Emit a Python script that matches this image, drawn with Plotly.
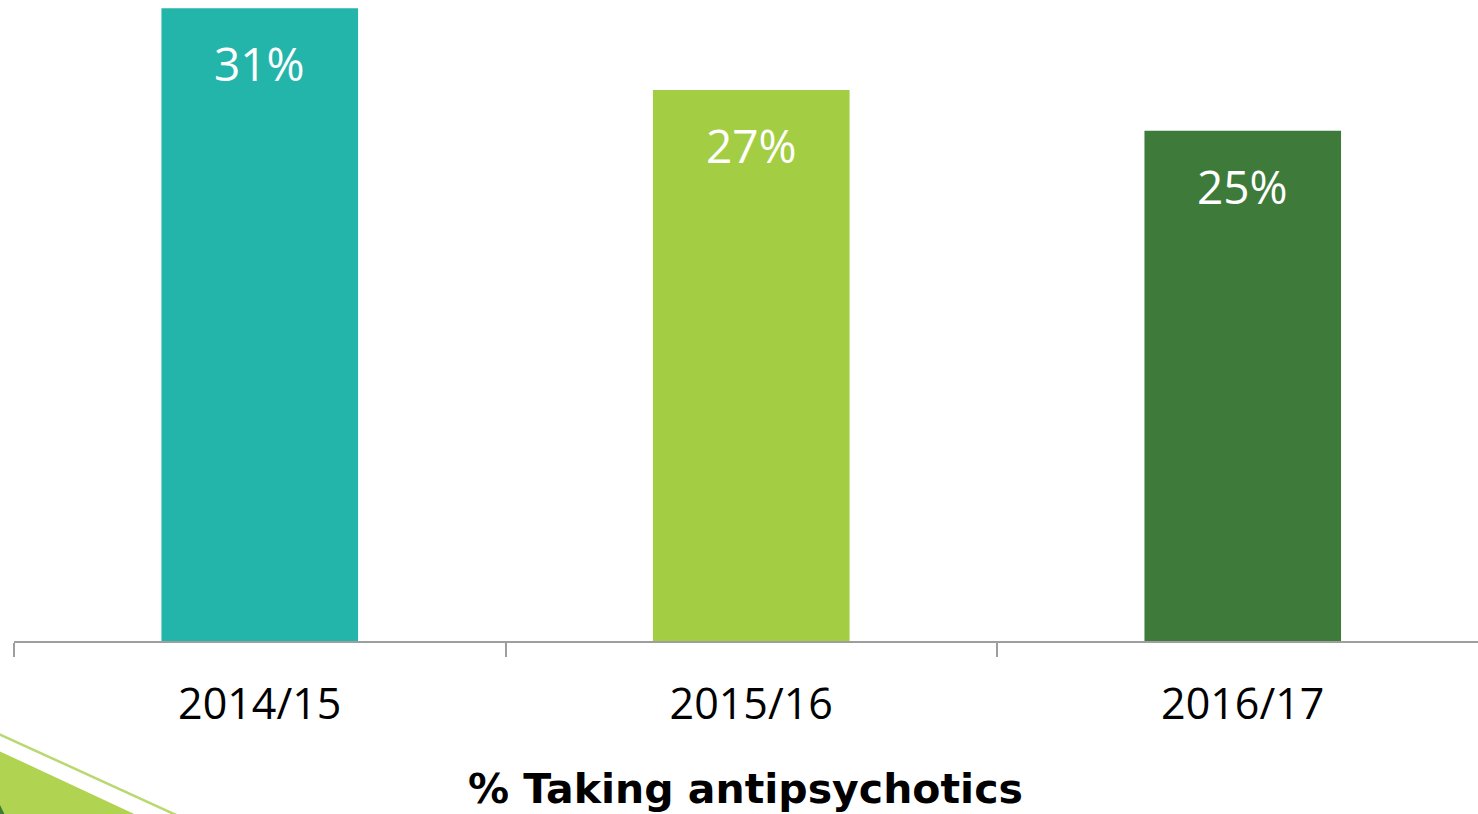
import plotly.graph_objects as go

# data
years = ['2014/15', '2015/16', '2016/17']
pct_taking = [31, 27, 25]
bar_colors = ['#24B5AA', '#A3CE43', '#3E7B3B']
title_text = '% Taking antipsychotics'

W, H = 1478, 814
PLOT_L, BASE_Y = 14, 641.5


def px(x):
    # figure pixel x -> paper x
    return (x - PLOT_L) / (W - PLOT_L)


def py(y):
    # figure pixel y -> paper y
    return (BASE_Y - y) / BASE_Y


fig = go.Figure()
fig.add_trace(go.Bar(
    x=years,
    y=pct_taking,
    width=0.4,
    marker=dict(color=bar_colors, line=dict(width=0)),
    hoverinfo='skip',
))

# value labels near the top of each bar
for yr, v in zip(years, pct_taking):
    fig.add_annotation(x=yr, y=v, text=f'{v}%', showarrow=False,
                       yanchor='top', yshift=-22,
                       font=dict(family='Open Sans', size=46, color='white'))

# axis title at the bottom
fig.add_annotation(x=px(745), y=py(790), xref='paper', yref='paper',
                   text=f'<b>{title_text}</b>', showarrow=False,
                   xanchor='center', yanchor='middle',
                   font=dict(family='DejaVu Sans', size=41, color='black'))

# decorative slide corner
fig.add_shape(type='path', xref='paper', yref='paper',
              path=f'M {px(-10)} {py(747.3)} L {px(150)} {py(822)} '
                   f'L {px(-10)} {py(822)} Z',
              fillcolor='#B1D352', line=dict(width=0), layer='above')
fig.add_shape(type='line', xref='paper', yref='paper',
              x0=px(-10), y0=py(730.5), x1=px(190), y1=py(822),
              line=dict(color='#B9D870', width=2.5), layer='above')
fig.add_shape(type='path', xref='paper', yref='paper',
              path=f'M {px(-10)} {py(785)} L {px(8)} {py(822)} '
                   f'L {px(-10)} {py(822)} Z',
              fillcolor='#3E7B3B', line=dict(width=0), layer='above')

fig.update_layout(
    width=W, height=H,
    margin=dict(l=PLOT_L, r=0, t=0, b=H - BASE_Y),
    paper_bgcolor='white', plot_bgcolor='white',
    showlegend=False,
    bargap=0.6,
    xaxis=dict(
        range=[-0.5, -0.5 + 3 * (W - PLOT_L) / 1474.5],
        showline=True, linecolor='#9E9E9E', linewidth=2,
        ticks='outside', tickson='boundaries', ticklen=14,
        tickcolor='#9E9E9E', tickwidth=2, ticklabelstandoff=24,
        tickfont=dict(family='Open Sans', size=43, color='black'),
        showgrid=False, zeroline=False, fixedrange=True,
    ),
    yaxis=dict(range=[0, 31.41], visible=False, fixedrange=True),
)

fig.write_html('out.html', config={'displayModeBar': False},
               post_script="document.body.style.margin='0';"
                           "document.body.style.overflow='hidden';")
